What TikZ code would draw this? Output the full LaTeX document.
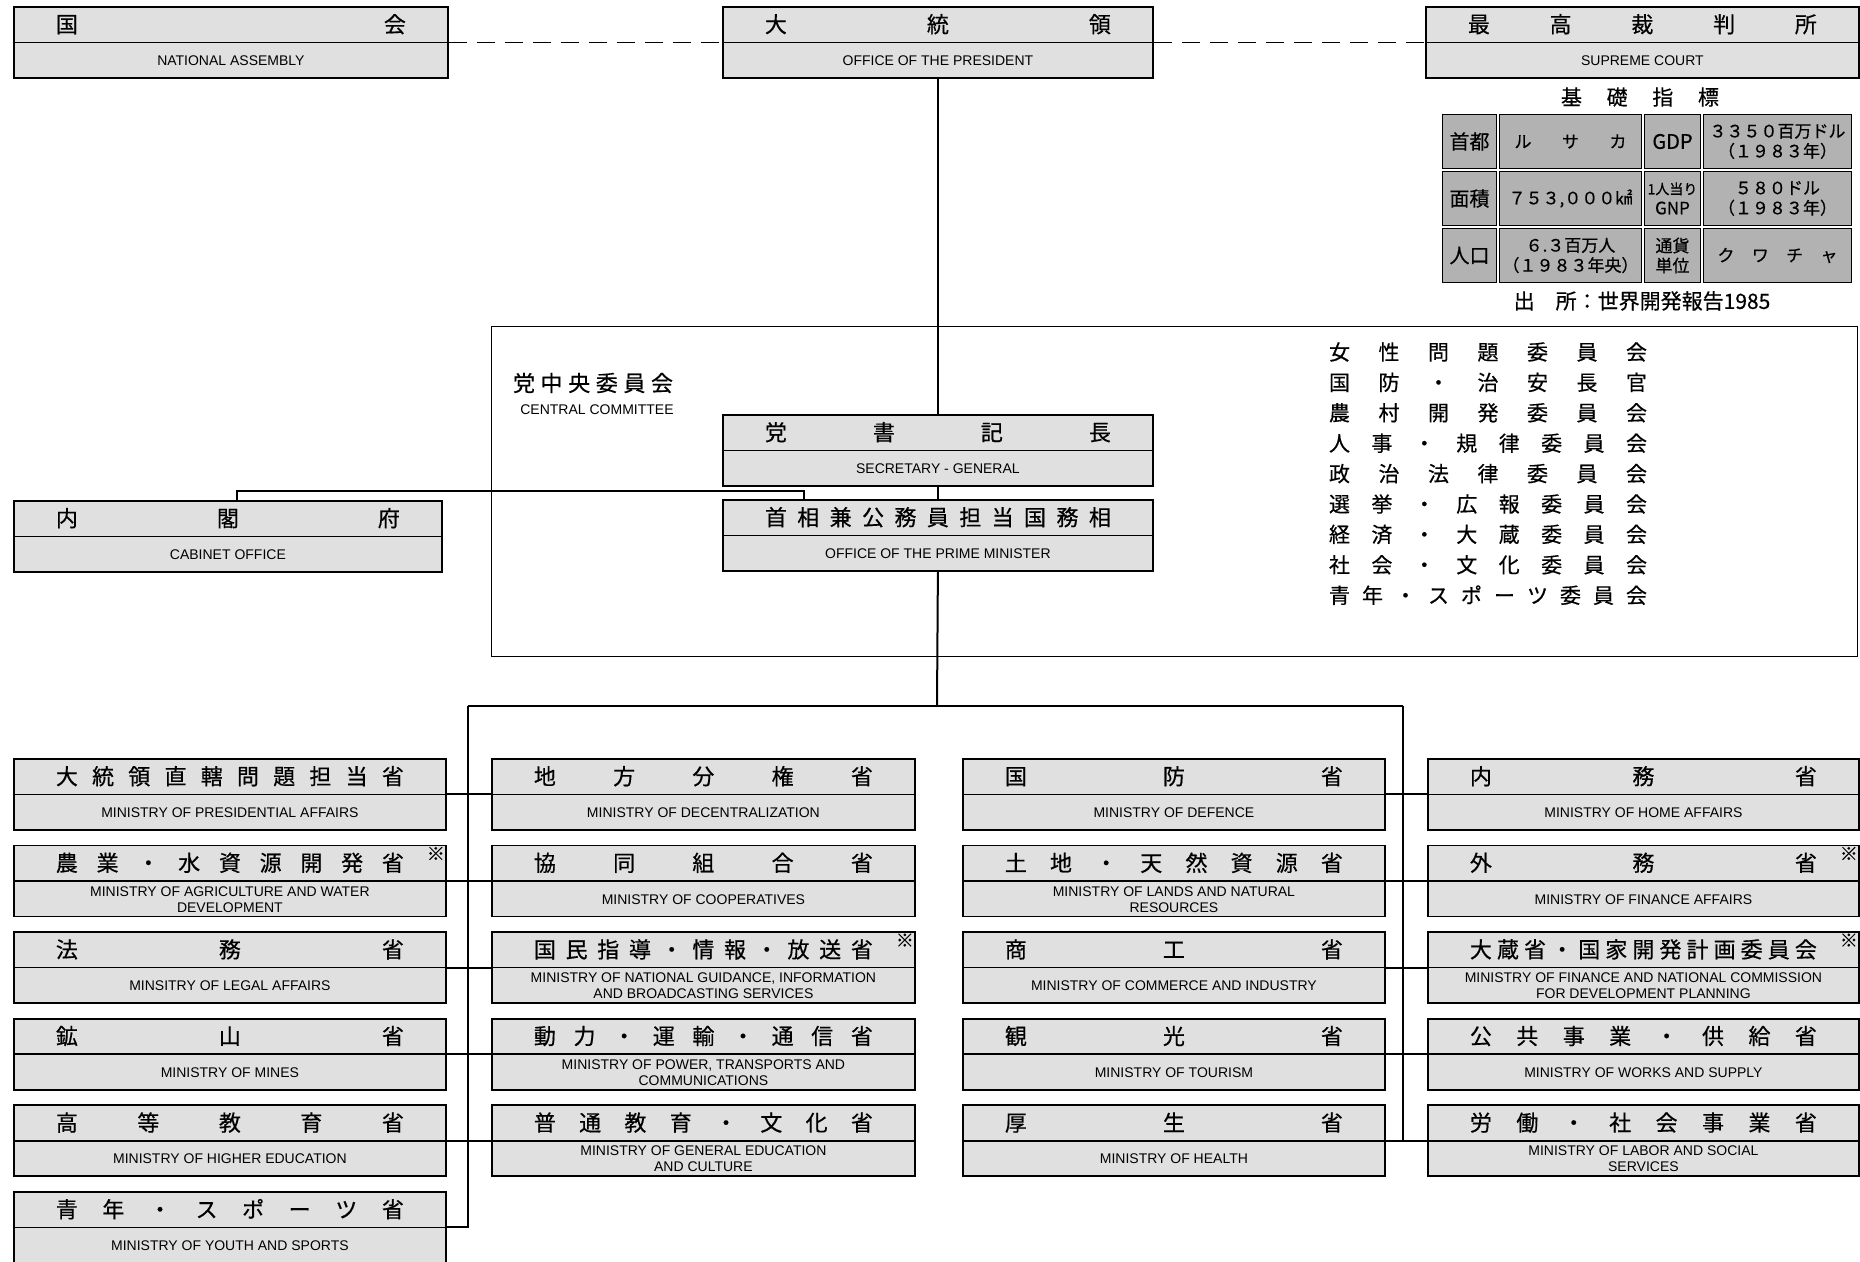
\documentclass[tikz,border=0pt]{standalone}
\usepackage{fontspec}
\setmainfont{Liberation Sans}
\newfontfamily\jpfont[FakeBold=0.5]{Noto Sans CJK JP}
\usepackage{tikz}
\usetikzlibrary{calc,positioning}

% spread the characters of a row over the width of its box
\def\jspend{}
\def\jsp#1{\jspi#1\jspend}
\def\jspi#1#2{#1\ifx\jspend#2\else\hfill\expandafter\jspi\expandafter#2\fi}

% name, left x, top y, width (px), japanese, english
\newcommand{\orgbox}[6]{%
  \node[obox,minimum width=#4*0.5pt,anchor=north west] (#1) at ({#2},{#3}) {};
  \draw[divline] (#1.west) -- (#1.east);
  \pgfmathsetmacro\jw{#4*0.5-42}
  \node[jprow] (#1-jp) at ($(#1.center)!0.5!(#1.north)$) {\makebox[\jw pt]{\expandafter\jsp\expandafter{#5}}};
  \node[enrow] (#1-en) at ($(#1.center)!0.5!(#1.south)$) {#6};
}

\begin{document}
\begin{tikzpicture}[x=0.5pt,y=-0.5pt,
    obox/.style={draw,line width=0.9pt,fill=black!12,minimum height=35.5pt,inner sep=0pt},
    divline/.style={line width=0.8pt},
    jprow/.style={inner sep=0pt,font=\jpfont\fontsize{11}{11}\selectfont},
    enrow/.style={inner sep=0pt,align=center,font=\fontsize{7}{8}\selectfont},
    link/.style={line width=1pt},
    cell/.style={draw,line width=0.9pt,fill=black!30,inner sep=0pt,minimum height=27pt,align=center,font=\jpfont\fontsize{8.5}{10}\selectfont},
    note/.style={inner sep=0pt,font=\jpfont\fontsize{9}{9}\selectfont}]
  \useasboundingbox (0,0) rectangle (1860,1262);
  \fill[white] (0,0) rectangle (1860,1262);

  % central committee frame
  \node[draw,line width=0.7pt,minimum width=683pt,minimum height=165pt,anchor=north west,inner sep=0pt] (cc) at (491,326) {};
  \node[jprow] (ccjp) at (593,383) {\makebox[80pt]{\jsp{党中央委員会}}};
  \node[enrow] (ccen) at (597,410) {CENTRAL COMMITTEE};

  % top level
  \orgbox{na}{13}{6}{434}{国会}{NATIONAL ASSEMBLY}
  \orgbox{pres}{722}{6}{430}{大統領}{OFFICE OF THE PRESIDENT}
  \orgbox{sc}{1425}{6}{433}{最高裁判所}{SUPREME COURT}
  \orgbox{sg}{722}{414}{430}{党書記長}{SECRETARY - GENERAL}
  \orgbox{pm}{722}{499}{430}{首相兼公務員担当国務相}{OFFICE OF THE PRIME MINISTER}
  \orgbox{cab}{13}{500}{428}{内閣府}{CABINET OFFICE}

  \draw[line width=0.8pt,dash pattern=on 9pt off 5pt] (na.east) -- (pres.west);
  \draw[line width=0.8pt,dash pattern=on 9pt off 5pt] (pres.east) -- (sc.west);
  \draw[link] (pres.south) -- (sg.north);
  \draw[link] (sg.south) -- (pm.north);
  \coordinate (cabk) at (804,491);
  \draw[link] ([xshift=4.5pt]cab.north) |- (cabk) -- (cabk |- pm.north);

  % committees
  \foreach \cm [count=\i from 0] in {女性問題委員会,国防・治安長官,農村開発委員会,人事・規律委員会,政治法律委員会,選挙・広報委員会,経済・大蔵委員会,社会・文化委員会,青年・スポーツ委員会}
    \node[jprow,font=\jpfont\fontsize{10.5}{10.5}\selectfont] (cm\i) at ({1488},{352+30.4*\i}) {\makebox[159pt]{\expandafter\jsp\expandafter{\cm}}};

  % basic indicators
  \node[jprow,font=\jpfont\fontsize{10.5}{10.5}\selectfont] (stt) at (1640,97) {\makebox[79pt]{\jsp{基礎指標}}};
  \node[cell,minimum width=27pt] (t11) at (1469.5,141.5) {\fontsize{10}{10}\selectfont 首都};
  \node[cell,minimum width=71pt] (t12) at (1570.5,141.5) {\makebox[56pt]{\jsp{ルサカ}}};
  \node[cell,minimum width=28pt] (t13) at (1672.5,141.5) {\fontsize{10}{10}\selectfont GDP};
  \node[cell,minimum width=74pt] (t14) at (1777.5,141.5) {３３５０百万ドル\\（１９８３年）};
  \node[cell,minimum width=27pt] (t21) at (1469.5,198.5) {\fontsize{10}{10}\selectfont 面積};
  \node[cell,minimum width=71pt] (t22) at (1570.5,198.5) {７５３,０００㎢};
  \node[cell,minimum width=28pt] (t23) at (1672.5,198.5) {{\fontsize{7}{8.5}\selectfont 1人当り}\\GNP};
  \node[cell,minimum width=74pt] (t24) at (1777.5,198.5) {５８０ドル\\（１９８３年）};
  \node[cell,minimum width=27pt] (t31) at (1469.5,255.5) {\fontsize{10}{10}\selectfont 人口};
  \node[cell,minimum width=71pt] (t32) at (1570.5,255.5) {６.３百万人\\（１９８３年央）};
  \node[cell,minimum width=28pt] (t33) at (1672.5,255.5) {通貨\\単位};
  \node[cell,minimum width=74pt] (t34) at (1777.5,255.5) {\makebox[60pt]{\jsp{クワチャ}}};
  \node[jprow,font=\jpfont\fontsize{10.5}{10.5}\selectfont] (src) at (1642,301) {出\hspace{1em}所：世界開発報告1985};

  % ministries
  \foreach \jp/\en [count=\i] in {大統領直轄問題担当省/MINISTRY OF PRESIDENTIAL AFFAIRS,
      農業・水資源開発省/{MINISTRY OF AGRICULTURE AND WATER\\DEVELOPMENT},
      法務省/MINSITRY OF LEGAL AFFAIRS,
      鉱山省/MINISTRY OF MINES,
      高等教育省/MINISTRY OF HIGHER EDUCATION,
      青年・スポーツ省/MINISTRY OF YOUTH AND SPORTS} {
    \orgbox{a\i}{13}{758+86.6*(\i-1)}{432}{\jp}{\en}
  }
  \foreach \jp/\en [count=\i] in {地方分権省/MINISTRY OF DECENTRALIZATION,
      協同組合省/MINISTRY OF COOPERATIVES,
      国民指導・情報・放送省/{MINISTRY OF NATIONAL GUIDANCE, INFORMATION\\AND BROADCASTING SERVICES},
      動力・運輸・通信省/{MINISTRY OF POWER, TRANSPORTS AND\\COMMUNICATIONS},
      普通教育・文化省/{MINISTRY OF GENERAL EDUCATION\\AND CULTURE}} {
    \orgbox{b\i}{491}{758+86.6*(\i-1)}{423}{\jp}{\en}
  }
  \foreach \jp/\en [count=\i] in {国防省/MINISTRY OF DEFENCE,
      土地・天然資源省/{MINISTRY OF LANDS AND NATURAL\\RESOURCES},
      商工省/MINISTRY OF COMMERCE AND INDUSTRY,
      観光省/MINISTRY OF TOURISM,
      厚生省/MINISTRY OF HEALTH} {
    \orgbox{c\i}{962}{758+86.6*(\i-1)}{422}{\jp}{\en}
  }
  \foreach \jp/\en [count=\i] in {内務省/MINISTRY OF HOME AFFAIRS,
      外務省/MINISTRY OF FINANCE AFFAIRS,
      大蔵省・国家開発計画委員会/{MINISTRY OF FINANCE AND NATIONAL COMMISSION\\FOR DEVELOPMENT PLANNING},
      公共事業・供給省/MINISTRY OF WORKS AND SUPPLY,
      労働・社会事業省/{MINISTRY OF LABOR AND SOCIAL\\SERVICES}} {
    \orgbox{d\i}{1427}{758+86.6*(\i-1)}{431}{\jp}{\en}
  }
  \foreach \n in {a2,b3,d2,d3}
    \node[note] (\n-x) at ([xshift=-5.5pt,yshift=-4.5pt]\n.north east) {※};

  % branches
  \coordinate (br) at (937,706);
  \coordinate (lt) at (468,706);
  \coordinate (rt) at (1403,706);
  \draw[link] (pm.south) -- (br);
  \draw[link] (lt) -- (rt);
  \draw[link] (lt) -- (lt |- a6.east) -- (a6.east);
  \draw[link] (rt) -- (rt |- d5.west);
  \foreach \i in {1,...,5} {
    \draw[link] (a\i.east) -- (b\i.west);
    \draw[link] (c\i.east) -- (d\i.west);
  }
\end{tikzpicture}
\end{document}
